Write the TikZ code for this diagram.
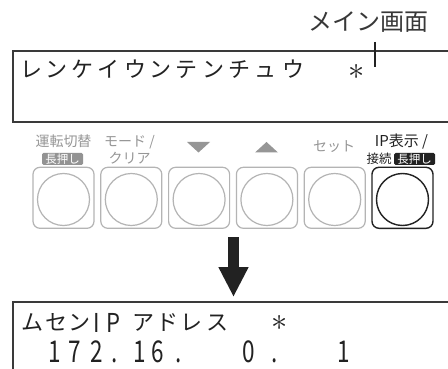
\documentclass[tikz,border=0pt]{standalone}
\usepackage{fontspec}
\newfontfamily\jp{Noto Sans CJK JP}
\usetikzlibrary{arrows.meta}
\definecolor{lcdline}{HTML}{3A3A3A}
\definecolor{ink}{HTML}{222222}
\definecolor{btngray}{HTML}{B4B4B4}
\definecolor{lblgray}{HTML}{969696}
\definecolor{tagfill}{HTML}{939393}
\tikzset{
  lcd/.style={font=\jp\fontsize{22}{22}\selectfont, anchor=base, inner sep=0pt, text=ink},
  lcdlatin/.style={font=\jp\fontsize{26}{26}\selectfont, anchor=base, inner sep=0pt, text=ink, xscale=0.85},
  lcddigit/.style={font=\jp\fontsize{30}{30}\selectfont, anchor=base, inner sep=0pt, text=ink, xscale=0.75},
  lcdstar/.style={font=\Huge, anchor=base, inner sep=0pt, text=ink, scale=1.3},
  lcdbox/.style={draw=lcdline, line width=1.5pt},
  lbl/.style={font=\jp\fontsize{14}{14}\selectfont, anchor=base, inner sep=0pt, text=lblgray},
  tag/.style={font=\jp\fontsize{11.5}{11.5}\selectfont, text=white, inner sep=0pt,
    minimum width=41pt, text height=10.4pt, text depth=1.6pt, rounded corners=1.5pt},
  btnbox/.style={draw=btngray, line width=1.2pt, rounded corners=7pt, minimum size=61pt, inner sep=0pt},
  btncirc/.style={draw=btngray, line width=1.2pt, circle, minimum size=52pt, inner sep=0pt},
  tri/.style={fill=lblgray, draw=none},
}
\begin{document}
\begin{tikzpicture}[x=1pt,y=-1pt]
\useasboundingbox (0,0) rectangle (448,369);
\fill[white] (0,0) rectangle (448,369);

% callout
\node[font=\jp\fontsize{24}{24}\selectfont, anchor=base, inner sep=0pt, text=ink!90] (main) at (368,31) {メイン画面};
\coordinate (tickA) at (375,42);
\coordinate (tickB) at (375,67);

% top LCD box
\draw[lcdbox] (448,51) -- (13,51) -- (13,122) -- (448,122);
\draw[ink, line width=2.5pt] (tickA) -- (tickB);
\foreach \c/\x [count=\i] in {レ/31.5,ン/56.5,ケ/82.5,イ/108.5,ウ/135,ン/160,テ/186.5,ン/213.5,チ/239,ュ/265,ウ/293.5}
  \node[lcd] (t\i) at (\x,78) {\c};
\node[lcdstar] (tstar) at (356.5,79.5) {$\ast$};

% labels
\node[lbl] (l1) at (63.5,147) {運転切替};
\node[tag, fill=tagfill] (g1) at (62.5,159) {長押し};
\node[lbl] (l2) at (129.5,147) {モード /};
\node[lbl] (l2b) at (129.5,164) {クリア};
\fill[tri] (187,142) -- (210,142) -- (198.5,152.5) -- cycle;
\fill[tri] (255,152.5) -- (278,152.5) -- (266.5,142) -- cycle;
\node[lbl] (l5) at (334,152) {セット};
\node[lbl, text=ink, font=\jp\fontsize{15}{15}\selectfont] (l6) at (401.5,147) {IP表示 /};
\node[font=\jp\fontsize{12.5}{12.5}\selectfont, anchor=base, inner sep=0pt, text=ink] (l6b) at (379,163.8) {接続};
\node[tag, fill=ink, minimum width=41pt] (g6) at (414.5,159) {長押し};

% buttons
\foreach \i in {0,...,4} {
  \node[btnbox] (b\i) at (63.5+67.8*\i,197.8) {};
  \node[btncirc] (c\i) at (63.5+67.8*\i,199.5) {};
}
\node[btnbox, draw=ink, line width=1.4pt] (b5) at (402.5,197.8) {};
\node[btncirc, draw=ink, line width=1.4pt] (c5) at (402.5,199.5) {};

% arrow
\coordinate (arrS) at (233.5,237);
\coordinate (arrE) at (233.5,297);
\draw[ink, line width=11pt, -{Triangle[width=28pt,length=30pt]}] (arrS) -- (arrE);

% bottom LCD box
\draw[lcdbox] (448,302) -- (13,302) -- (13,369);
\foreach \c/\x [count=\i] in {ム/32.5,セ/56.5,ン/79,ア/143.5,ド/167.5,レ/191.5,ス/217.5}
  \node[lcd] (m\i) at (\x,330) {\c};
\node[lcdlatin] (mI) at (97,332) {I};
\node[lcdlatin] (mP) at (113.5,332) {P};
\node[lcdstar] (mstar) at (280,330) {$\ast$};
\foreach \c/\x [count=\i] in {1/54.5,7/75,2/96.5,./115,1/139.5,6/157.5,./178.5,0/249,./275,1/344}
  \node[lcddigit] (d\i) at (\x,362) {\c};
\end{tikzpicture}
\end{document}
